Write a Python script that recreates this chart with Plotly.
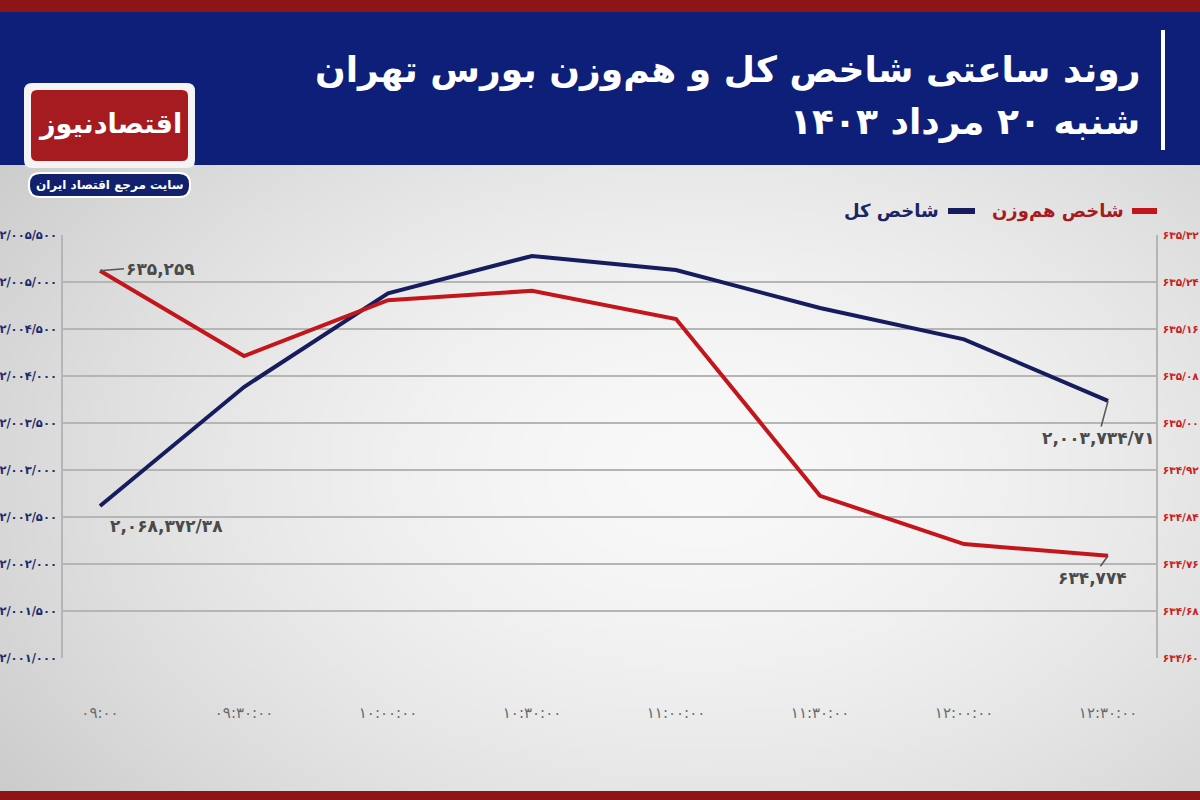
import plotly.graph_objects as go
import zlib, struct, base64, math

# ---------------- data ----------------
times = ["۰۹:۰۰", "۰۹:۳۰:۰۰", "۱۰:۰۰:۰۰", "۱۰:۳۰:۰۰",
         "۱۱:۰۰:۰۰", "۱۱:۳۰:۰۰", "۱۲:۰۰:۰۰", "۱۲:۳۰:۰۰"]
shakhes_kol = [2002617, 2003883, 2004880, 2005277, 2005128, 2004723, 2004390, 2003734.71]
shakhes_hamvazn = [635.259, 635.114, 635.209, 635.225, 635.177, 634.876, 634.794, 634.774]

left_ticks = [2001000, 2001500, 2002000, 2002500, 2003000, 2003500,
              2004000, 2004500, 2005000, 2005500]
right_ticks = [634.60, 634.68, 634.76, 634.84, 634.92, 635.00,
               635.08, 635.16, 635.24, 635.32]

kol_first_label = "۲,۰۶۸,۳۷۲/۳۸"
kol_last_label = "۲,۰۰۳,۷۳۴/۷۱"
ham_first_label = "۶۳۵,۲۵۹"
ham_last_label = "۶۳۴,۷۷۴"

title_line1 = "روند ساعتی شاخص کل و هم‌وزن بورس تهران"
title_line2 = "شنبه ۲۰ مرداد ۱۴۰۳"
legend_kol = "شاخص کل"
legend_ham = "شاخص هم‌وزن"
logo_text = "اقتصادنیوز"
logo_tag = "سایت مرجع اقتصاد ایران"

# ---------------- helpers ----------------
FA = str.maketrans("0123456789", "۰۱۲۳۴۵۶۷۸۹")


def fa_left(v):
    s = f"{int(v):,}".replace(",", "/")
    return s.translate(FA)


def fa_right(v):
    return f"{v:.2f}".replace(".", "/").translate(FA)


W, H = 1200, 800
ML, MR, MT, MB = 63, 44, 235, 142
PW, PH = W - ML - MR, H - MT - MB


def px(x):
    return (x - ML) / PW


def py(y):
    return (H - MB - y) / PH


def gradient_png():
    w, h = 240, 160
    rows = []
    for j in range(h):
        Y = (j + 0.5) * H / h
        row = bytearray([0])
        for i in range(w):
            X = (i + 0.5) * W / w
            d = math.sqrt(((X - 700) / 700) ** 2 + ((Y - 470) / 460) ** 2)
            v = int(max(0, min(255, 249 - 33 * d ** 1.6)))
            row += bytes([v, v, v])
        rows.append(bytes(row))
    raw = b"".join(rows)

    def chunk(t, data):
        c = struct.pack(">I", len(data)) + t + data
        return c + struct.pack(">I", zlib.crc32(t + data) & 0xffffffff)

    png = b"\x89PNG\r\n\x1a\n" + chunk(b"IHDR", struct.pack(">IIBBBBB", w, h, 8, 2, 0, 0, 0)) \
        + chunk(b"IDAT", zlib.compress(raw, 9)) + chunk(b"IEND", b"")
    return "data:image/png;base64," + base64.b64encode(png).decode()


def rrect(x0, y0, x1, y1, r):
    rx, ry = r / PW, r / PH
    X0, X1, Y0, Y1 = px(x0), px(x1), py(y1), py(y0)
    return (f"M{X0+rx},{Y0} L{X1-rx},{Y0} Q{X1},{Y0} {X1},{Y0+ry} "
            f"L{X1},{Y1-ry} Q{X1},{Y1} {X1-rx},{Y1} L{X0+rx},{Y1} "
            f"Q{X0},{Y1} {X0},{Y1-ry} L{X0},{Y0+ry} Q{X0},{Y0} {X0+rx},{Y0} Z")


FONT = "DejaVu Sans"
NAVY = "#161c5e"
RED = "#c3161c"

fig = go.Figure()
fig.add_trace(go.Scatter(x=times, y=shakhes_kol, mode="lines", name=legend_kol,
                         line=dict(color=NAVY, width=4), yaxis="y"))
fig.add_trace(go.Scatter(x=times, y=shakhes_hamvazn, mode="lines", name=legend_ham,
                         line=dict(color=RED, width=4), yaxis="y2"))

shapes = [
    dict(type="rect", xref="paper", yref="paper", x0=px(0), x1=px(W), y0=py(165), y1=py(12),
         fillcolor="#0e1f79", line_width=0, layer="above"),
    dict(type="rect", xref="paper", yref="paper", x0=px(0), x1=px(W), y0=py(12), y1=py(0),
         fillcolor="#8e1416", line_width=0, layer="above"),
    dict(type="rect", xref="paper", yref="paper", x0=px(0), x1=px(W), y0=py(800), y1=py(791),
         fillcolor="#8e1416", line_width=0, layer="above"),
    dict(type="rect", xref="paper", yref="paper", x0=px(1161), x1=px(1165), y0=py(150), y1=py(30),
         fillcolor="white", line_width=0, layer="above"),
    dict(type="path", xref="paper", yref="paper", path=rrect(24, 83, 195, 168, 8),
         fillcolor="#f4f4f4", line_width=0, layer="above"),
    dict(type="path", xref="paper", yref="paper", path=rrect(31, 90, 188, 161, 6),
         fillcolor="#a51b1f", line_width=0, layer="above"),
    dict(type="path", xref="paper", yref="paper", path=rrect(29, 173, 190, 197, 11),
         fillcolor="#12206e", line=dict(color="white", width=2), layer="above"),
    # legend dashes
    dict(type="line", xref="paper", yref="paper", x0=px(1132), x1=px(1157), y0=py(211), y1=py(211),
         line=dict(color=RED, width=6), layer="above"),
    dict(type="line", xref="paper", yref="paper", x0=px(948), x1=px(975), y0=py(211), y1=py(211),
         line=dict(color=NAVY, width=6), layer="above"),
]

annotations = [
    dict(xref="paper", yref="paper", x=px(1142), y=py(70), text=title_line1, showarrow=False,
         xanchor="right", yanchor="middle", font=dict(family=FONT, size=36, color="white", weight="bold")),
    dict(xref="paper", yref="paper", x=px(1142), y=py(122), text=title_line2, showarrow=False,
         xanchor="right", yanchor="middle", font=dict(family=FONT, size=36, color="white", weight="bold")),
    dict(xref="paper", yref="paper", x=px(110), y=py(124), text=logo_text, showarrow=False,
         xanchor="center", yanchor="middle", font=dict(family=FONT, size=27, color="white", weight="bold")),
    dict(xref="paper", yref="paper", x=px(110), y=py(185), text=logo_tag, showarrow=False,
         xanchor="center", yanchor="middle", font=dict(family=FONT, size=12, color="white", weight="bold")),
    dict(xref="paper", yref="paper", x=px(1126), y=py(211), text=legend_ham, showarrow=False,
         xanchor="right", yanchor="middle", font=dict(family=FONT, size=18, color="#a81a1e", weight="bold")),
    dict(xref="paper", yref="paper", x=px(941), y=py(211), text=legend_kol, showarrow=False,
         xanchor="right", yanchor="middle", font=dict(family=FONT, size=18, color="#1b2466", weight="bold")),
]

lab_font = dict(family=FONT, size=17, color="#4a4a4a", weight="bold")
annotations += [
    dict(x=times[0], y=shakhes_hamvazn[0], xref="x", yref="y2", text=ham_first_label,
         showarrow=True, arrowhead=0, arrowwidth=1.5, arrowcolor="#555", ax=24, ay=-2,
         xanchor="left", yanchor="middle", font=lab_font),
    dict(x=times[0], y=shakhes_kol[0], xref="x", yref="y", text=kol_first_label,
         showarrow=True, arrowhead=0, arrowwidth=1.5, arrowcolor="#555", ax=8, ay=20,
         xanchor="left", yanchor="middle", font=lab_font),
    dict(x=times[-1], y=shakhes_kol[-1], xref="x", yref="y", text=kol_last_label,
         showarrow=True, arrowhead=0, arrowwidth=1.5, arrowcolor="#555", ax=-10, ay=37,
         xanchor="center", yanchor="middle", font=lab_font),
    dict(x=times[-1], y=shakhes_hamvazn[-1], xref="x", yref="y2", text=ham_last_label,
         showarrow=True, arrowhead=0, arrowwidth=1.5, arrowcolor="#555", ax=-16, ay=22,
         xanchor="center", yanchor="middle", font=lab_font),
]

fig.update_layout(
    width=W, height=H,
    margin=dict(l=ML, r=MR, t=MT, b=MB, autoexpand=False),
    paper_bgcolor="#e2e2e2",
    plot_bgcolor="rgba(0,0,0,0)",
    showlegend=False,
    shapes=shapes,
    annotations=annotations,
    images=[dict(source=gradient_png(), xref="paper", yref="paper", x=px(0), y=py(0),
                 sizex=W / PW, sizey=H / PH, sizing="stretch", xanchor="left", yanchor="top",
                 layer="below")],
    xaxis=dict(type="category", range=[-0.257, 7.333], showgrid=False, showline=False,
               zeroline=False, ticks="", ticklabelstandoff=44, automargin=False,
               tickfont=dict(family=FONT, size=15, color="#6a6a6a")),
    yaxis=dict(range=[left_ticks[0], left_ticks[-1]], tickvals=left_ticks,
               ticktext=[fa_left(v) for v in left_ticks], showgrid=True, automargin=False,
               gridcolor="#b5b5b5", gridwidth=1.5, showline=True, linecolor="#b5b5b5",
               linewidth=1.5, zeroline=False, ticks="", ticklabelstandoff=2,
               tickfont=dict(family=FONT, size=11.5, color="#1c2a6b", weight="bold")),
    yaxis2=dict(range=[right_ticks[0], right_ticks[-1]], tickvals=right_ticks,
                ticktext=[fa_right(v) for v in right_ticks], overlaying="y", side="right",
                showgrid=False, showline=True, linecolor="#b5b5b5", linewidth=1.5,
                zeroline=False, ticks="", ticklabelstandoff=3, automargin=False,
                tickfont=dict(family=FONT, size=10.5, color="#c81e1e", weight="bold")),
)

fig.write_html("out.html")
